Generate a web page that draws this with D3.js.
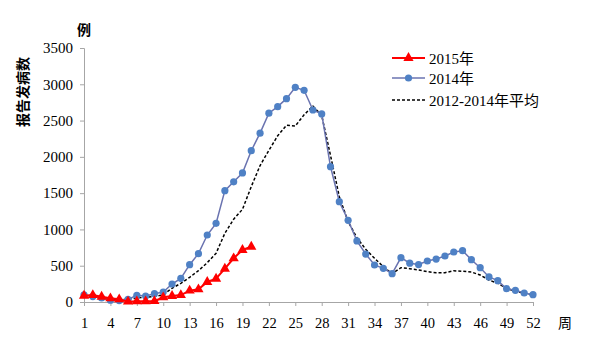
<!DOCTYPE html>
<html><head><meta charset="utf-8">
<script src="https://cdn.jsdelivr.net/npm/d3@7"></script>
<style>body{margin:0;background:#fff}</style>
</head><body>
<svg id="c" width="616" height="358"></svg>
<script>
const weeks = d3.range(1, 53);
const xTickLabels = [1,4,7,10,13,16,19,22,25,28,31,34,37,40,43,46,49,52];
const yTickLabels = [0,500,1000,1500,2000,2500,3000,3500];
const seriesNames = ["2015年", "2014年", "2012-2014年平均"];
const y2015 = [87,96,73,51,37,5,10,10,12,65,83,96,156,175,276,321,459,602,717,762];
const y2014 = [100,75,55,25,20,35,92,83,115,138,248,326,514,666,923,1084,1534,1656,1778,2085,2327,2602,2692,2802,2958,2917,2646,2591,1865,1382,1126,841,661,510,464,390,611,535,516,565,592,634,689,707,583,473,345,294,183,161,124,101];
const yAvg = [95,80,60,45,30,40,55,65,75,100,189,257,340,431,542,671,947,1140,1277,1590,1880,2090,2290,2435,2425,2580,2700,2570,2020,1450,1107,886,726,602,487,390,473,459,441,418,404,404,431,423,413,372,303,257,189,147,120,92];

const svg = d3.select("#c");
const L = 84, R = 533, T = 48, B = 302;
const x = d3.scaleLinear().domain([1, 52]).range([L, R]);
const y = d3.scaleLinear().domain([0, 3500]).range([B, T]);
const axisColor = "#a6a6a6";
const numFont = "'Liberation Serif', 'Times New Roman', serif";
const cjkFont = "'Noto Sans CJK SC', sans-serif";

// Y axis
const ya = svg.append("g").attr("transform", `translate(${L},0)`)
  .call(d3.axisLeft(y).tickValues(yTickLabels).tickSize(4).tickPadding(7).tickFormat(d3.format("d")));
ya.select(".domain").attr("stroke", axisColor);
ya.selectAll(".tick line").attr("stroke", axisColor);
ya.selectAll(".tick text").attr("font-family", numFont).attr("font-size", 15).attr("fill", "#000");

// X axis
const xa = svg.append("g").attr("transform", `translate(0,${B})`)
  .call(d3.axisBottom(x).tickValues(xTickLabels).tickSize(4).tickPadding(12).tickFormat(d3.format("d")));
xa.select(".domain").attr("stroke", axisColor);
xa.selectAll(".tick line").attr("stroke", axisColor);
xa.selectAll(".tick text").attr("font-family", numFont).attr("font-size", 14.5).attr("fill", "#000");

// Titles
svg.append("text").attr("x", 84).attr("y", 35).attr("text-anchor", "middle")
  .attr("font-family", cjkFont).attr("font-size", 14).attr("font-weight", "bold").text("例");
svg.append("text").attr("x", 558).attr("y", 328).attr("text-anchor", "start")
  .attr("font-family", cjkFont).attr("font-size", 14).text("周");
svg.append("text").attr("transform", "translate(28,92) rotate(-90)").attr("text-anchor", "middle")
  .attr("font-family", cjkFont).attr("font-size", 14).attr("font-weight", "bold").text("报告发病数");

const line = d3.line().x((d, i) => x(weeks[i])).y(d => y(d));

// Average dashed
svg.append("path").datum(yAvg).attr("d", line).attr("fill", "none")
  .attr("stroke", "#000").attr("stroke-width", 1.5).attr("stroke-dasharray", "3,2");

// 2014
svg.append("path").datum(y2014).attr("d", line).attr("fill", "none")
  .attr("stroke", "#6a73b0").attr("stroke-width", 1.5);
svg.append("g").selectAll("circle").data(y2014).join("circle")
  .attr("cx", (d, i) => x(weeks[i])).attr("cy", d => y(d)).attr("r", 3.6).attr("fill", "#4f81c5");

// 2015
svg.append("path").datum(y2015).attr("d", line).attr("fill", "none")
  .attr("stroke", "#ff0000").attr("stroke-width", 2);
const tri = d3.symbol().type(d3.symbolTriangle).size(45);
svg.append("g").selectAll("path").data(y2015).join("path")
  .attr("d", tri).attr("transform", (d, i) => `translate(${x(weeks[i])},${y(d)})`).attr("fill", "#ff0000");

// Legend
const lg = svg.append("g");
const ly = [58, 78, 100];
const lx1 = 392, lx2 = 425;
lg.append("line").attr("x1", lx1).attr("x2", lx2).attr("y1", ly[0]).attr("y2", ly[0]).attr("stroke", "#ff0000").attr("stroke-width", 2);
lg.append("path").attr("d", tri).attr("transform", `translate(${(lx1+lx2)/2},${ly[0]})`).attr("fill", "#ff0000");
lg.append("line").attr("x1", lx1).attr("x2", lx2).attr("y1", ly[1]).attr("y2", ly[1]).attr("stroke", "#6a73b0").attr("stroke-width", 1.5);
lg.append("circle").attr("cx", (lx1+lx2)/2).attr("cy", ly[1]).attr("r", 3.6).attr("fill", "#4f81c5");
lg.append("line").attr("x1", lx1).attr("x2", lx2).attr("y1", ly[2]).attr("y2", ly[2]).attr("stroke", "#000").attr("stroke-width", 1.5).attr("stroke-dasharray", "3,2");
seriesNames.forEach((n, i) => {
  lg.append("text").attr("x", 429).attr("y", ly[i] + 5.5)
    .attr("font-family", "'Liberation Serif', 'Noto Sans CJK SC', serif").attr("font-size", 15).text(n);
});
</script>
</body></html>
